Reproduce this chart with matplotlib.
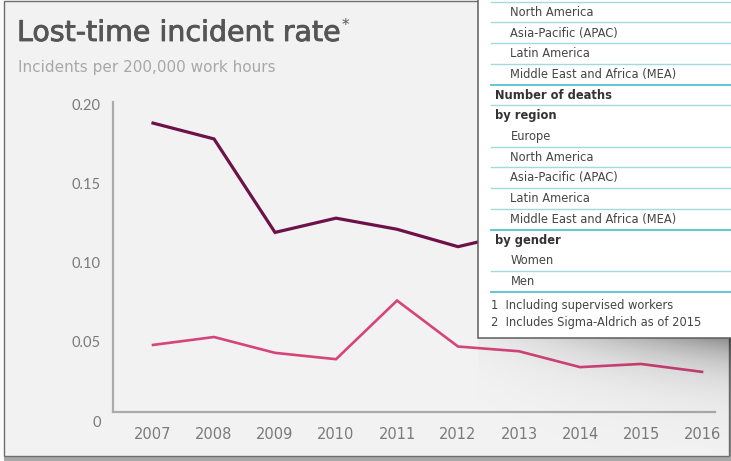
import numpy as np
import matplotlib

matplotlib.use("Agg")

import matplotlib.pyplot as plt
import matplotlib.patheffects as pe
from matplotlib.patches import Rectangle


# Lost-time incident rate, incidents per 200,000 work hours
years = [2007, 2008, 2009, 2010, 2011, 2012, 2013, 2014, 2015, 2016]
rate_upper = [0.188, 0.178, 0.119, 0.128, 0.121, 0.110, 0.119, 0.110, 0.102, 0.100]
rate_lower = [0.048, 0.053, 0.043, 0.039, 0.076, 0.047, 0.044, 0.034, 0.036, 0.031]

y_ticks = [0, 0.05, 0.10, 0.15, 0.20]
y_tick_labels = ["0", "0.05", "0.10", "0.15", "0.20"]

TITLE = "Lost-time incident rate"
SUBTITLE = "Incidents per 200,000 work hours"

# rows of the report table lying over the chart: (text, kind, rule below)
table_rows = [
    ("North America", "sub", "light"),
    ("Asia-Pacific (APAC)", "sub", "light"),
    ("Latin America", "sub", "light"),
    ("Middle East and Africa (MEA)", "sub", "dark"),
    ("Number of deaths", "head", "light"),
    ("by region", "head", None),
    ("Europe", "sub", "light"),
    ("North America", "sub", "light"),
    ("Asia-Pacific (APAC)", "sub", "light"),
    ("Latin America", "sub", "light"),
    ("Middle East and Africa (MEA)", "sub", "dark"),
    ("by gender", "head", None),
    ("Women", "sub", "light"),
    ("Men", "sub", "dark"),
]
footnotes = ["1  Including supervised workers", "2  Includes Sigma-Aldrich as of 2015"]

W, H = 731, 461
PANEL_BG = "#f2f2f2"
DARK_PLUM = "#6c1249"
PINK = "#d5457a"
AXIS_GREY = "#ababab"
RULE_LIGHT = "#9fdbe3"
RULE_DARK = "#55c0d0"


def px_rect(x0, y0, x1, y1):
    """Figure fraction box from pixel edges measured from the top-left."""
    return [x0 / W, 1 - y1 / H, (x1 - x0) / W, (y1 - y0) / H]


fig = plt.figure(figsize=(W / 100, H / 100), dpi=100, facecolor="#fbfbfb")

# page panel behind the chart
bg = fig.add_axes([0, 0, 1, 1], zorder=0)
bg.set_xlim(0, W)
bg.set_ylim(H, 0)
bg.axis("off")
bg.add_patch(Rectangle((729, 2), 2, 459, facecolor="#8a8a8a", edgecolor="none"))
bg.add_patch(Rectangle((4, 456), 727, 5, facecolor="#a8a8a8", edgecolor="none"))
bg.add_patch(Rectangle((4, 1), 725, 455, facecolor=PANEL_BG, edgecolor="#6e6e6e", linewidth=1.0))

title = fig.text(17 / W, 1 - 41 / H, TITLE, fontsize=20.5, family="DejaVu Sans",
                 color="#555555", va="baseline", ha="left",
                 path_effects=[pe.withStroke(linewidth=0.6, foreground="#555555")])
fig.text(18 / W, 1 - 72 / H, SUBTITLE, fontsize=11, family="DejaVu Sans", color="#a8a8a8",
         va="baseline", ha="left")

# asterisk sits just after the end of the title
fig.canvas.draw()
title_end = title.get_window_extent().x1
fig.text(title_end / W + 1 / W, 1 - 30 / H, "*", fontsize=11, family="DejaVu Sans",
         color="#555555", va="baseline", ha="left")

# line chart
ax = fig.add_axes(px_rect(113, 102, 715, 421), zorder=1)
ax.set_facecolor("none")
ax.plot(years, rate_upper, color=DARK_PLUM, linewidth=2.3, solid_joinstyle="miter")
ax.plot(years, rate_lower, color=PINK, linewidth=1.9, solid_joinstyle="miter")
ax.set_xlim(2006.344, 2016.213)
ax.set_ylim(0, 0.2013)

ax.set_xticks(years)
ax.set_xticklabels([str(y) for y in years])
ax.set_yticks(y_ticks)
ax.set_yticklabels(y_tick_labels)
ax.tick_params(length=0, labelsize=10.5, labelcolor="#7a7a7a")
ax.tick_params(axis="x", pad=11)
ax.tick_params(axis="y", pad=9)
for label in ax.get_xticklabels() + ax.get_yticklabels():
    label.set_family("Lato")

for side in ("top", "right"):
    ax.spines[side].set_visible(False)
base = 0.0057
ax.spines["bottom"].set_position(("data", base))
ax.spines["left"].set_bounds(base, 0.2013)
for side in ("bottom", "left"):
    ax.spines[side].set_color(AXIS_GREY)
    ax.spines[side].set_linewidth(1.6)

# report table laid over the upper right corner
ov = fig.add_axes([0, 0, 1, 1], zorder=3)
ov.set_xlim(0, W)
ov.set_ylim(H, 0)
ov.axis("off")

tx0, ty1 = 478, 338

# soft drop shadow under the table, heavier towards the right
gx = np.linspace(tx0, W, 300)
gy = np.linspace(ty1, 456, 200)
xx, yy = np.meshgrid(gx, gy)
fall = np.exp(-(yy - ty1) / 28.0)
ramp = np.clip((xx - tx0) / (W - tx0), 0, 1) ** 1.3
alpha = np.clip(0.44 * fall * (0.08 + 0.92 * ramp), 0, 1)
shade = np.zeros(alpha.shape + (4,))
shade[..., 3] = alpha
ov.imshow(shade, extent=(tx0, W, 456, ty1), origin="upper", aspect="auto",
          interpolation="bilinear", zorder=1)

ov.add_patch(Rectangle((tx0, -5), W - tx0 + 5, ty1 + 5, facecolor="white",
                       edgecolor="#5d5d5d", linewidth=1.1, zorder=2))

pitch = 20.7
first = 12.3
table_font = 8.3
ov.plot([491, W], [first - 10.5] * 2, color=RULE_LIGHT, linewidth=1.0, zorder=3)
for i, (text, kind, rule) in enumerate(table_rows):
    yc = first + i * pitch
    if kind == "head":
        ov.text(495, yc, text, fontsize=table_font, fontweight="bold", color="#333333",
                family="DejaVu Sans", va="center", ha="left", zorder=4)
    else:
        ov.text(510.5, yc, text, fontsize=table_font, color="#454545",
                family="DejaVu Sans", va="center", ha="left", zorder=4)
    if rule:
        ov.plot([491, W], [yc + 10.2] * 2, linewidth=1.0 if rule == "light" else 1.3,
                color=RULE_LIGHT if rule == "light" else RULE_DARK, zorder=3)

for j, note in enumerate(footnotes):
    ov.text(491, 305 + j * 17.5, note, fontsize=table_font, color="#454545",
            family="DejaVu Sans", va="center", ha="left", zorder=4)

fig.savefig("out.png", dpi=100, facecolor=fig.get_facecolor())
plt.close(fig)
